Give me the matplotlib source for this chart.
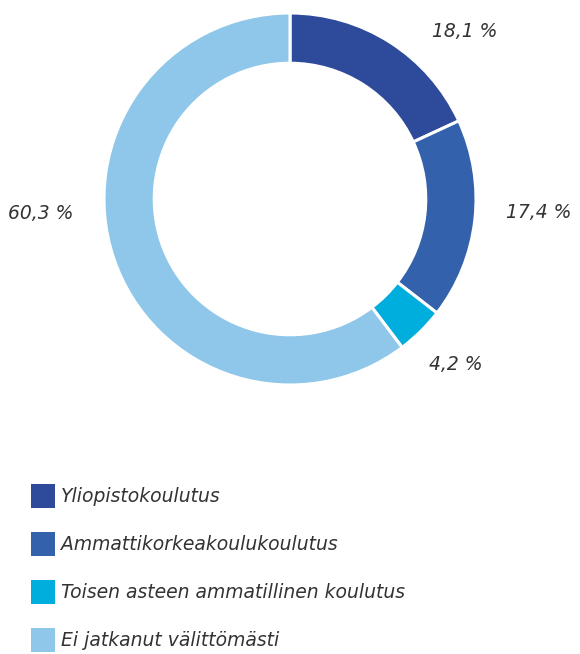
import matplotlib
matplotlib.use("Agg")
import matplotlib.pyplot as plt
from matplotlib.patches import Rectangle

categories = ["Yliopistokoulutus", "Ammattikorkeakoulukoulutus",
              "Toisen asteen ammatillinen koulutus", "Ei jatkanut välittömästi"]
values = [18.1, 17.4, 4.2, 60.3]
value_labels = ["18,1 %", "17,4 %", "4,2 %", "60,3 %"]
colors = ["#2D4A9B", "#3461AC", "#00AEDE", "#8EC7E9"]

# label anchor positions (data coords of pie axes, radius 1)
label_pos = [(0.94, 0.90), (1.34, -0.07), (0.89, -0.89), (-1.34, -0.08)]

W, H = 580, 654
fig = plt.figure(figsize=(W / 100, H / 100), dpi=100)
fig.patch.set_facecolor("white")

FONT = "DejaVu Sans"

cx, cy, R = 290, 199, 186
ax = fig.add_axes([(cx - R) / W, (H - cy - R) / H, 2 * R / W, 2 * R / H])
ax.pie(values, colors=colors, startangle=90, counterclock=False,
       radius=1.0, wedgeprops=dict(width=0.27, edgecolor="white", linewidth=2.2))
ax.set_xlim(-1, 1)
ax.set_ylim(-1, 1)
ax.set_aspect("equal")
ax.axis("off")

for txt, (x, y) in zip(value_labels, label_pos):
    ax.text(x, y, txt, ha="center", va="center", fontsize=13.5,
            style="italic", color="#333333", family=FONT,
            clip_on=False)

# legend
x0, y0, sq, step = 31, 484, 24, 48
for i, (cat, col) in enumerate(zip(categories, colors)):
    top = y0 + i * step
    fig.patches.append(Rectangle((x0 / W, 1 - (top + sq) / H), sq / W, sq / H,
                                 transform=fig.transFigure, facecolor=col,
                                 edgecolor="none"))
    fig.text((x0 + sq + 6) / W, 1 - (top + sq / 2 + 1) / H, cat,
             ha="left", va="center", fontsize=13.5, style="italic",
             color="#333333", family=FONT)

fig.savefig("out.png", dpi=100, facecolor="white")
